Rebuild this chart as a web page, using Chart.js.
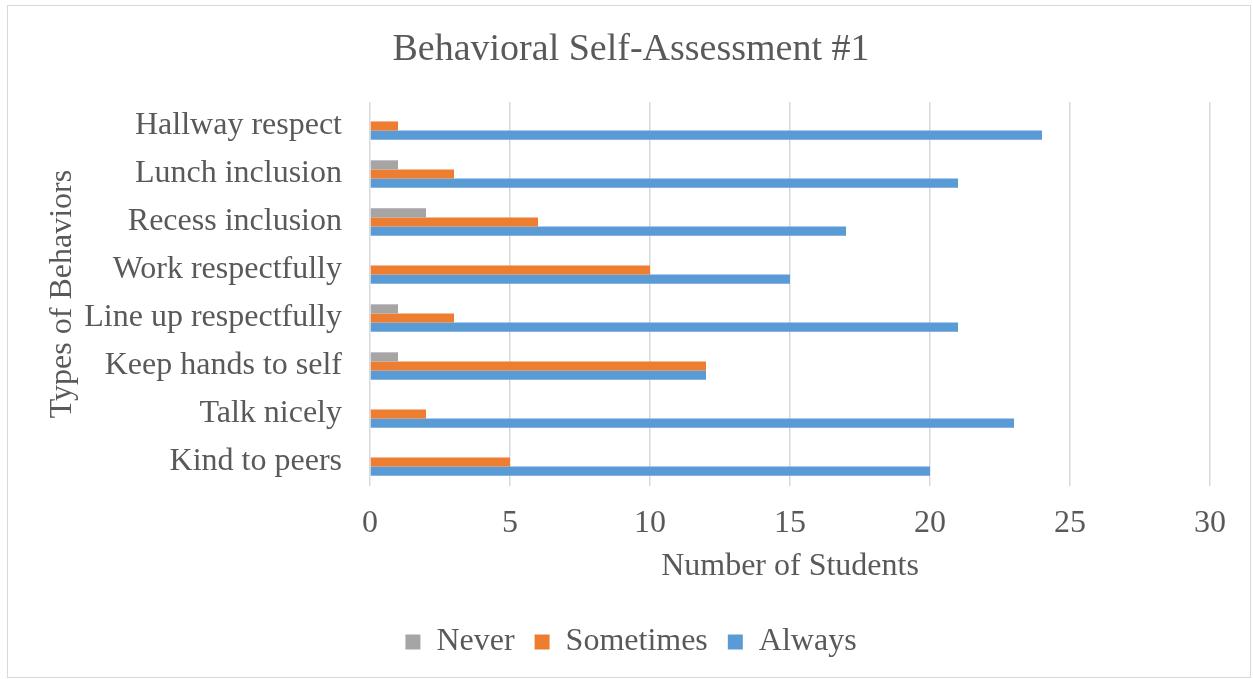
<!DOCTYPE html>
<html>
<head>
<meta charset="utf-8">
<script src="https://cdn.jsdelivr.net/npm/chart.js@4"></script>
<style>
  html, body { margin: 0; padding: 0; background: #fff; }
  #wrap { position: relative; width: 1253px; height: 679px; }
  #frame { position: absolute; left: 7px; top: 5px; width: 1242px; height: 671px; border: 1px solid #d9d9d9; pointer-events: none; }
</style>
</head>
<body>
<div id="wrap">
  <canvas id="chart" width="1253" height="679"></canvas>
  <div id="frame"></div>
</div>
<script>
// Behavioral Self-Assessment #1 - horizontal grouped bars
var behaviors = ['Hallway respect', 'Lunch inclusion', 'Recess inclusion', 'Work respectfully',
    'Line up respectfully', 'Keep hands to self', 'Talk nicely', 'Kind to peers'];
var never = [0, 1, 2, 0, 1, 1, 0, 0];
var sometimes = [1, 3, 6, 10, 3, 12, 2, 5];
var always = [24, 21, 17, 15, 21, 12, 23, 20];

var txt = '#595959', grid = '#d9d9d9', serif = "'Liberation Serif', 'Times New Roman', serif";

// title and legend sit centred on the whole frame, not on the padded area
var recentre = {
    id: 'recentre',
    afterLayout: function (chart) {
        [chart.titleBlock, chart.legend].forEach(function (b) {
            if (b) { b.left += 22; b.right += 22; }
        });
    }
};

new Chart(document.getElementById('chart'), {
    type: 'bar',
    data: {
        labels: behaviors,
        datasets: [
            { label: 'Never', data: never, backgroundColor: '#a5a5a5' },
            { label: 'Sometimes', data: sometimes, backgroundColor: '#ed7d31' },
            { label: 'Always', data: always, backgroundColor: '#5b9bd5' }
        ]
    },
    plugins: [recentre],
    options: {
        indexAxis: 'y',
        responsive: false,
        animation: false,
        categoryPercentage: 0.57,
        barPercentage: 1,
        layout: { padding: { left: 8, right: 43, top: 5, bottom: 11 } },
        plugins: {
            title: {
                display: true, text: 'Behavioral Self-Assessment #1', color: txt,
                font: { family: serif, size: 38, weight: 'normal' },
                padding: { top: 22.2, bottom: 29.2 }
            },
            legend: {
                position: 'bottom',
                labels: { color: txt, font: { family: serif, size: 32 }, boxWidth: 15, boxHeight: 15, padding: 20 }
            },
            tooltip: { enabled: false }
        },
        scales: {
            x: {
                min: 0, max: 30,
                ticks: { stepSize: 5, color: txt, font: { family: serif, size: 32 }, padding: 18 },
                grid: { color: grid, lineWidth: 1.5, drawTicks: false },
                border: { display: false },
                title: { display: true, text: 'Number of Students', color: txt, font: { family: serif, size: 32 }, padding: { top: 0, bottom: 20 } },
                afterFit: function (s) { s.height = 120; }
            },
            y: {
                ticks: { color: txt, font: { family: serif, size: 32 }, padding: 28 },
                grid: { display: false, drawTicks: false },
                border: { display: false },
                title: { display: true, text: 'Types of Behaviors', color: txt, font: { family: serif, size: 32 }, padding: { top: 35, bottom: 0 } },
                afterFit: function (s) { s.width = 362; }
            }
        }
    }
});
</script>
</body>
</html>
